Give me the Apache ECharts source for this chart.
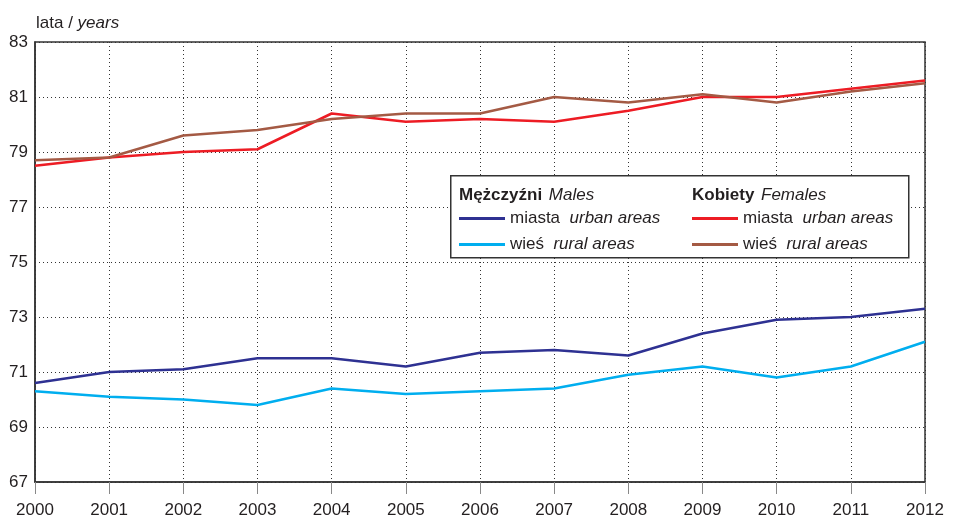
<!DOCTYPE html>
<html>
<head>
<meta charset="utf-8">
<script src="https://cdn.jsdelivr.net/npm/echarts@6/dist/echarts.min.js"></script>
<style>
  html, body { margin: 0; padding: 0; background: #fff; }
  #chart { width: 954px; height: 521px; }
</style>
</head>
<body>
<div id="chart"></div>
<script>
// lata (years)
const years = ["2000", "2001", "2002", "2003", "2004", "2005", "2006", "2007", "2008", "2009", "2010", "2011", "2012"];
// Mężczyźni / Males
const menUrban = [70.6, 71.0, 71.1, 71.5, 71.5, 71.2, 71.7, 71.8, 71.6, 72.4, 72.9, 73.0, 73.3];
const menRural = [70.3, 70.1, 70.0, 69.8, 70.4, 70.2, 70.3, 70.4, 70.9, 71.2, 70.8, 71.2, 72.1];
// Kobiety / Females
const womenUrban = [78.5, 78.8, 79.0, 79.1, 80.4, 80.1, 80.2, 80.1, 80.5, 81.0, 81.0, 81.3, 81.6];
const womenRural = [78.7, 78.8, 79.6, 79.8, 80.2, 80.4, 80.4, 81.0, 80.8, 81.1, 80.8, 81.2, 81.5];

const FONT = "'Liberation Sans', Arial, sans-serif";
const TXT = "#231f20";

const legendText = {
  "M-miasta": "miasta  {i|urban areas}",
  "M-wies": "wieś  {i|rural areas}",
  "K-miasta": "miasta  {i|urban areas}",
  "K-wies": "wieś  {i|rural areas}",
};

const legendBase = {
  orient: "vertical",
  top: 210,
  padding: 0,
  itemWidth: 46,
  itemHeight: 3,
  itemGap: 9,
  icon: "rect",
  selectedMode: false,
  z: 10,
  textStyle: {
    fontFamily: FONT,
    fontSize: 17,
    color: TXT,
    rich: { i: { fontFamily: FONT, fontSize: 17, fontStyle: "italic", color: TXT } },
  },
  formatter: (name) => legendText[name],
};

const chart = echarts.init(document.getElementById("chart"));
const option = {
  backgroundColor: "#fff",
  animation: false,
  title: {
    left: 31,
    top: 10,
    text: "{a|lata / }{b|years}",
    textStyle: {
      fontWeight: "normal",
      rich: {
        a: { fontFamily: FONT, fontSize: 17, color: TXT, fontWeight: "normal" },
        b: { fontFamily: FONT, fontSize: 17, color: TXT, fontStyle: "italic", fontWeight: "normal" },
      },
    },
  },
  grid: {
    left: 35,
    right: 29,
    top: 42,
    bottom: 39,
    show: true,
    borderColor: "#333",
    borderWidth: 1.5,
    backgroundColor: "transparent",
  },
  legend: [
    Object.assign({}, legendBase, { left: 459, data: ["M-miasta", "M-wies"] }),
    Object.assign({}, legendBase, { left: 692, data: ["K-miasta", "K-wies"] }),
  ],
  graphic: [
    {
      type: "rect",
      left: 450,
      top: 175,
      z: 5,
      shape: { width: 458, height: 82 },
      style: { fill: "#fff", stroke: "#333", lineWidth: 1.5 },
    },
    {
      type: "text",
      left: 459,
      top: 187,
      z: 10,
      style: {
        text: "{b|Mężczyźni}  {i|Males}",
        rich: {
          b: { fontFamily: FONT, fontSize: 17, fontWeight: "bold", fill: TXT },
          i: { fontFamily: FONT, fontSize: 17, fontStyle: "italic", fill: TXT },
        },
      },
    },
    {
      type: "text",
      left: 692,
      top: 187,
      z: 10,
      style: {
        text: "{b|Kobiety}  {i|Females}",
        rich: {
          b: { fontFamily: FONT, fontSize: 17, fontWeight: "bold", fill: TXT },
          i: { fontFamily: FONT, fontSize: 17, fontStyle: "italic", fill: TXT },
        },
      },
    },
  ],
  xAxis: {
    type: "category",
    data: years,
    boundaryGap: false,
    axisLine: { lineStyle: { color: "#333", width: 1.5 } },
    axisTick: { show: true, length: 12, lineStyle: { color: "#888" } },
    axisLabel: { fontFamily: FONT, fontSize: 17, color: TXT, margin: 20 },
    splitLine: { show: true, lineStyle: { color: "#333", type: [1, 3], width: 1 } },
  },
  yAxis: {
    type: "value",
    min: 67,
    max: 83,
    interval: 2,
    axisLine: { show: true, lineStyle: { color: "#333", width: 1.5 } },
    axisTick: { show: false },
    axisLabel: { fontFamily: FONT, fontSize: 17, color: TXT, margin: 7 },
    splitLine: { show: true, lineStyle: { color: "#333", type: [1, 3], width: 1 } },
  },
  series: [
    { name: "M-miasta", type: "line", data: menUrban, color: "#2e3192" },
    { name: "M-wies", type: "line", data: menRural, color: "#00aeef" },
    { name: "K-miasta", type: "line", data: womenUrban, color: "#ed1c24" },
    { name: "K-wies", type: "line", data: womenRural, color: "#a45a44" },
  ].map((s) => Object.assign(s, {
    showSymbol: false,
    symbol: "none",
    lineStyle: { width: 2.5, color: s.color },
    itemStyle: { color: s.color },
    z: 3,
  })),
};
chart.setOption(option);
</script>
</body>
</html>
